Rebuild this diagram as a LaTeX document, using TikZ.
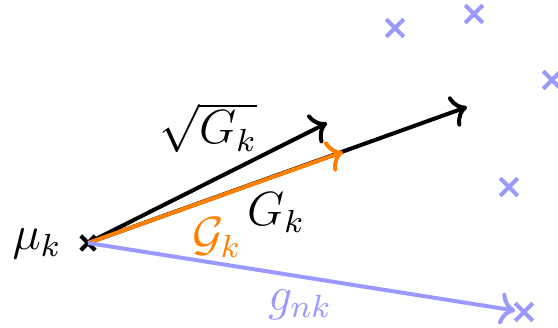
\documentclass[tikz,border=0pt]{standalone}
\usepackage{amsmath}
\usepackage{tikz}
\usetikzlibrary{shapes.misc, arrows.meta}

\begin{document}
\begin{tikzpicture}[
    x=0.25pt, y=-0.25pt,
    meanpt/.style={cross out, draw, line width=1pt, minimum size=2.6pt, inner sep=0pt},
    datapt/.style={cross out, draw=blue!40, line width=1pt, minimum size=3.4pt, inner sep=0pt},
    vec/.style={line width=1pt, ->},
    every node/.style={font=\large}
]
\useasboundingbox (0,0) rectangle (558,328);
\node[meanpt] (mu) at (88,243) {};
\node (mulab) at (37,244) {$\mu_k$};
\node[datapt] (x1) at (395,28) {};
\node[datapt] (x2) at (474,14) {};
\node[datapt] (x3) at (552,80) {};
\node[datapt] (x4) at (509,187) {};
\node[datapt] (x5) at (524,312) {};
\coordinate (sqrttip) at (327,123);
\coordinate (gtip) at (467,107);
\coordinate (calgtip) at (343,152);
\draw[vec] (mu.center) -- (sqrttip);
\draw[vec] (mu.center) -- (gtip);
\draw[vec, orange] (mu.center) -- (calgtip);
\draw[vec, blue!40] (mu.center) -- (x5);
\node (sqrtlab) at (208,128) {$\sqrt{G_k}$};
\node (glab) at (276,213) {$G_k$};
\node[text=orange] (calglab) at (217,238) {$\mathcal{G}_k$};
\node[text=blue!40] (gnklab) at (300,305) {$g_{nk}$};
\end{tikzpicture}
\end{document}
